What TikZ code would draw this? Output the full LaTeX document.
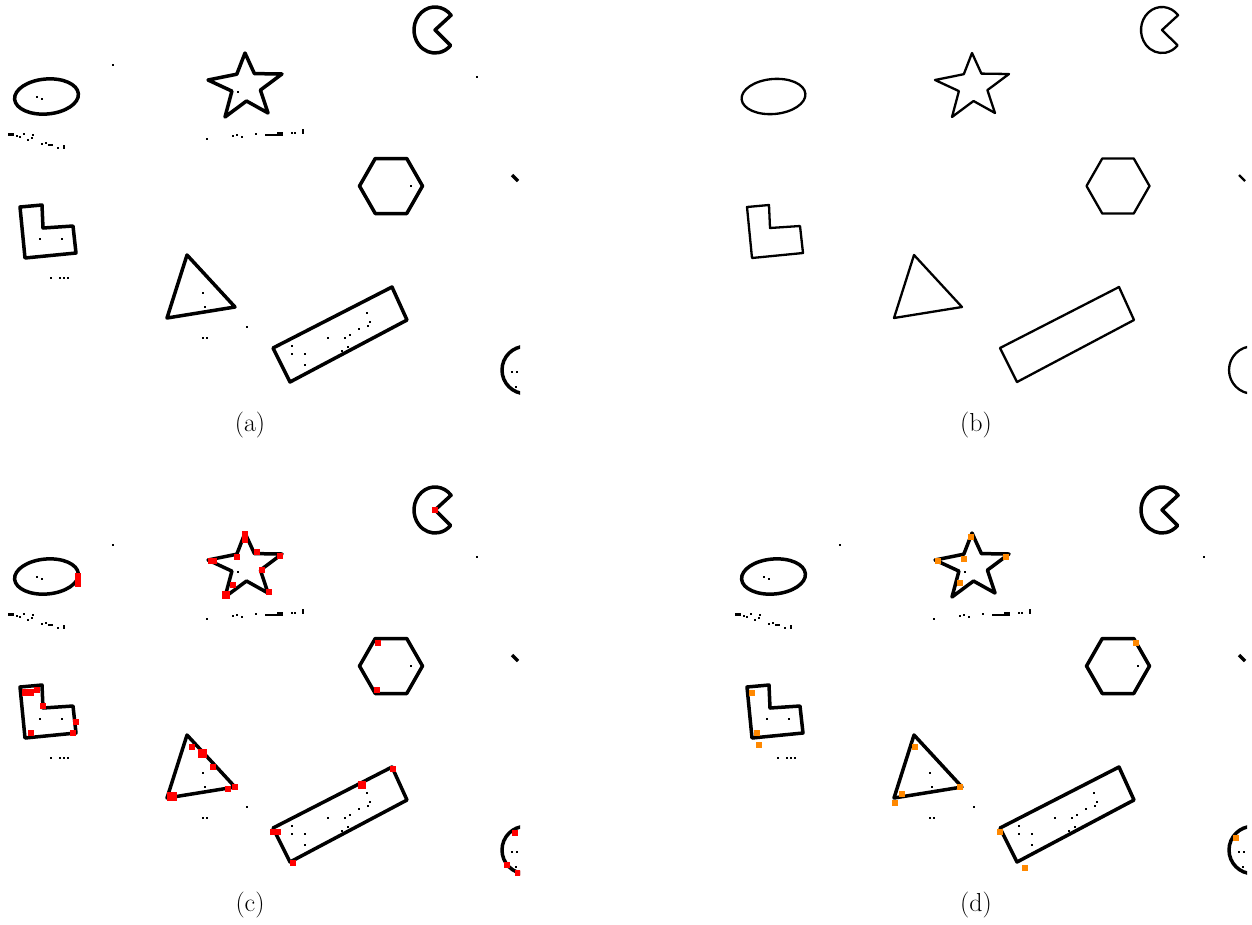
\documentclass[tikz,border=0pt]{standalone}
\definecolor{mred}{RGB}{255,0,0}
\definecolor{morange}{RGB}{255,136,0}
\newcommand\drawshapes{%
  % ellipse
  \draw[outline, rotate around={5:(46.5,96.5)}] (46.5,96.5) ellipse [x radius=32, y radius=17.5];
  % star
  \draw[outline] (245,53) -- (254.4,73.6) -- (282,74) -- (260.4,90.1) -- (268,113) -- (246.5,101) -- (225,117) -- (231.9,91.1) -- (208,80) -- (236.8,74.2) -- cycle;
  % pacman
  \draw[outline] (435,30) -- ++({21*cos(-40)},{23*sin(-40)}) arc[start angle=-40, end angle=-318, x radius=21, y radius=23] -- cycle;
  % hexagon
  \draw[outline] (422.5,186) -- (406.75,158.5) -- (375.25,158.5) -- (359.5,186) -- (375.25,213.5) -- (406.75,213.5) -- cycle;
  % L shape
  \draw[outline] (20,207) -- (42,205) -- (43,228) -- (73,226) -- (76,253) -- (25,258) -- cycle;
  % triangle
  \draw[outline] (187,255) -- (235,307) -- (167,318) -- cycle;
  % rectangle
  \draw[outline] (273,348) -- (392,287) -- (407,320) -- (290,382) -- cycle;
  % partial circle at the edge
  \draw[outline] (525.7,370) circle [radius=23.7];
  % small mark at the edge
  \draw[outline] (512,175) -- (518,181);
}
\newcommand\dt[2]{\fill (#1-1,#2-1) rectangle ++(2.2,2.2);}
\newcommand\drawnoise{%
  \dt{113}{65}
  \fill (8,133) rectangle (14,135.5);
  \dt{17}{136}\dt{20}{137}\dt{24}{134}\dt{28}{140}\dt{32}{138}\dt{33}{135}
  \dt{42}{144}\dt{46}{143}\fill (48,143.5) rectangle (53,146);\dt{58}{148}\dt{64}{147}\fill (63,145) rectangle (65,149);
  \dt{37}{97}\dt{42}{99}
  \dt{207}{139}\dt{233}{136}\dt{237}{135}\dt{242}{137}\dt{256}{134}
  \fill (265,134) rectangle (283,136);\fill (277,132) rectangle (283,136);
  \dt{292}{133}\dt{295}{133}\fill (302,129) rectangle (304,134);
  \dt{238}{92}
  \dt{477}{77}
  \dt{411}{186}
  \dt{40}{239}\dt{62}{239}
  \dt{51}{278}\dt{60}{278}\dt{64}{278}\dt{68}{278}
  \dt{203}{293}\dt{205}{307}\dt{247}{327}\dt{203}{338}\dt{207}{338}
  \dt{292}{346}\dt{292}{354}\dt{305}{354}\dt{328}{338}\dt{345}{338}\dt{350}{335}
  \dt{359}{329}\dt{368}{326}\dt{367}{313}\dt{370}{322}\dt{305}{365}\dt{342}{351}\dt{348}{347}
  \dt{512}{372}\dt{517}{372}\dt{516}{387}
}
\newcommand\rmk[2]{\fill[mred] (#1-3,#2-3) rectangle ++(6,6);}
\newcommand\omk[2]{\fill[morange] (#1-3,#2-3) rectangle ++(6,6);}
\begin{document}
\begin{tikzpicture}[x=1pt,y=-1pt,
  outline/.style={draw=black, line width=3.5, line join=round},
  lab/.style={font=\fontsize{26}{30}\selectfont, inner sep=0pt}]
\useasboundingbox (0,0) rectangle (1252,924);
\fill[white] (0,0) rectangle (1252,924);
% (a)
\begin{scope}
  \clip (0,0) rectangle (520,400);
  \drawshapes
  \drawnoise
\end{scope}
% (b)
\begin{scope}[shift={(727,0)}, outline/.style={draw=black, line width=2.3, line join=round}]
  \clip (0,0) rectangle (520,400);
  \drawshapes
\end{scope}
% (c)
\begin{scope}[shift={(0,480)}]
  \clip (0,0) rectangle (520,400);
  \drawshapes
  \drawnoise
  \fill[mred] (75,93) rectangle (81,107);
  \fill[mred] (242,51) rectangle (248,63);
  \rmk{237}{77}\fill[mred] (208,78) rectangle (217,84);\rmk{257}{72}\rmk{280}{76}\rmk{262}{90}
  \rmk{233}{105}\fill[mred] (222,111) rectangle (230,119);\rmk{269}{112}
  \rmk{435}{30}
  \rmk{378}{163}\rmk{377}{210}
  \fill[mred] (22,209) rectangle (34,216);\rmk{37}{210}\rmk{43}{226}\rmk{76}{242}\rmk{73}{253}\rmk{31}{253}
  \rmk{192}{267}\fill[mred] (198,269) rectangle (207,278);\rmk{213}{287}\rmk{235}{307}\rmk{228}{309}
  \fill[mred] (167,312) rectangle (177,321);
  \fill[mred] (270,349) rectangle (281,355);\rmk{293}{383}\fill[mred] (358,301) rectangle (366,309);\rmk{393}{289}
  \rmk{515}{353}\rmk{507}{385}\rmk{518}{393}
\end{scope}
% (d)
\begin{scope}[shift={(727,480)}]
  \clip (0,0) rectangle (520,400);
  \drawshapes
  \drawnoise
  \omk{244}{57}\omk{211}{81}\omk{237}{79}\omk{233}{103}\omk{279}{77}
  \omk{409}{163}
  \omk{25}{213}\omk{30}{253}\omk{32}{265}
  \omk{188}{267}\omk{233}{307}\omk{175}{314}\omk{168}{323}
  \omk{273}{352}\omk{298}{388}
  \omk{509}{358}
\end{scope}
\node[lab] (la) at (250,425) {(a)};
\node[lab] (lb) at (976,425) {(b)};
\node[lab] (lc) at (250,905) {(c)};
\node[lab] (ld) at (976,905) {(d)};
\end{tikzpicture}
\end{document}
